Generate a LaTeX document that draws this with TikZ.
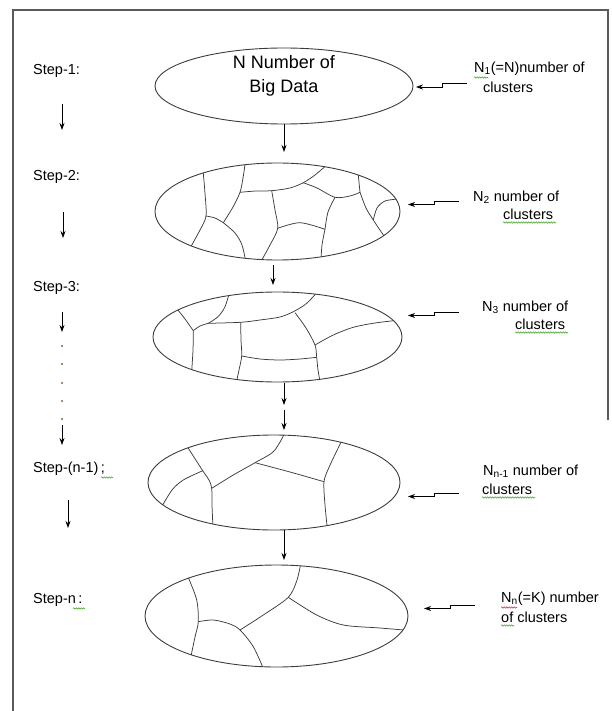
\documentclass[tikz,border=0pt]{standalone}
\usepackage{fontspec}
\setmainfont{Liberation Sans}
\usetikzlibrary{arrows.meta,shapes.geometric,decorations.pathmorphing}

\definecolor{edgegray}{RGB}{60,60,60}
\definecolor{framegray}{RGB}{90,90,90}
\definecolor{dotbrown}{RGB}{150,95,45}
\definecolor{spellgreen}{RGB}{80,170,60}
\definecolor{spellred}{RGB}{220,60,60}

\begin{document}
\begin{tikzpicture}[x=1pt, y=-1pt, font=\fontsize{14.5}{17}\selectfont,
		blob/.style={draw=edgegray, line width=0.9pt, ellipse, inner sep=0pt},
		cut/.style={draw=edgegray, line width=0.75pt},
		flow/.style={-{Stealth[length=7pt, width=5pt]}, line width=0.8pt},
		tag/.style={anchor=west, inner sep=0pt},
		squig/.style={decorate, decoration={snake, amplitude=0.7pt, segment length=2.5pt}, line width=0.6pt}]
		\useasboundingbox (0,0) rectangle (611,711);
		% frame
		\draw[framegray, line width=1.2pt] (13,711) -- (13,10) -- (608,10) -- (608,420);
		% step labels on the left
		\foreach \name/\y/\txt in {step1/71/{Step-1:}, step2/177/{Step-2:}, step3/288/{Step-3:}, stepm/469/{Step-(n-1)\,;}, stepn/600/{Step-n\,:}}
			\node[tag] (\name) at (33,\y) {\txt};
		\foreach \x/\ya/\yb in {62/104/130, 63/212/238, 62/312/332, 62/425/445, 68/500/528}
			\draw[flow] (\x,\ya) -- (\x,\yb);
		\foreach \y in {346,364,383,401,419}
			\fill[dotbrown] (62,\y) circle (1.2pt);
		% the data sets, one ellipse per step
		\node[blob, minimum width=258pt, minimum height=76pt] (e1) at (284,86) {};
		\node[align=center, font=\fontsize{18}{24}\selectfont] (bigdata) at (284,76) {N Number of\\Big Data};
		\node[blob, minimum width=245pt, minimum height=97pt] (e2) at (277.5,211.5) {};
		\node[blob, minimum width=249pt, minimum height=90pt] (e3) at (277.5,337) {};
		\node[blob, minimum width=252pt, minimum height=95pt] (e4) at (274,482.5) {};
		\node[blob, minimum width=263pt, minimum height=102pt] (e5) at (276.5,616) {};
		% clusters inside step 2
		\begin{scope}
			\clip (e2.center) ellipse [x radius=122.5, y radius=48.5];
			\draw[cut] plot[smooth] coordinates {(203,170) (205,193.3) (206,216) (200,230) (189,250)};
			\draw[cut] plot[smooth] coordinates {(206,216) (215,218) (223.3,222.7)};
			\draw[cut] plot[smooth] coordinates {(223.3,222.7) (233,207) (240,192.3) (243,178) (245.5,161)};
			\draw[cut] plot[smooth] coordinates {(223.3,222.7) (235,233) (242,245) (246,263)};
			\draw[cut] plot[smooth] coordinates {(240,192.3) (256,191) (271.7,190.7) (290,188) (303.3,182.7) (315,175) (329,163)};
			\draw[cut] plot[smooth] coordinates {(271.7,190.7) (275,210) (277.7,228.3) (270,245) (259,265)};
			\draw[cut] plot[smooth] coordinates {(277.7,228.3) (300,222.7) (325,229.3)};
			\draw[cut] plot[smooth] coordinates {(325,229.3) (328,212) (335,197.3)};
			\draw[cut] plot[smooth] coordinates {(325,229.3) (322,245) (321,260)};
			\draw[cut] plot[smooth] coordinates {(303.3,182.7) (317,188) (335,197.3) (350,196) (360,192.3)};
			\draw[cut] plot[smooth] coordinates {(358,171) (358.3,175) (360,192.3)};
			\draw[cut] plot[smooth] coordinates {(360,192.3) (366,208) (373.3,220) (386,239)};
			\draw[cut] plot[smooth] coordinates {(373.3,220) (377,208) (385,201) (398,199)};
		\end{scope}
		% clusters inside step 3
		\begin{scope}
			\clip (e3.center) ellipse [x radius=124.5, y radius=45];
			\draw[cut] plot[smooth] coordinates {(230.5,289) (225,306.7) (218,316.7) (208.3,323.3)};
			\draw[cut] plot[smooth] coordinates {(208.3,323.3) (240.7,322.3) (260,320) (280,317) (293.3,311.7) (306.7,303.3) (320,289)};
			\draw[cut] plot[smooth] coordinates {(174,307) (177.3,309.3) (185,319) (193.3,330.7)};
			\draw[cut] plot[smooth] coordinates {(193.3,330.7) (200,326) (208.3,323.3)};
			\draw[cut] plot[smooth] coordinates {(193.3,330.7) (193,350) (191.5,374)};
			\draw[cut] plot[smooth] coordinates {(240.7,322.3) (241,340) (241.7,356) (239,370) (236,384)};
			\draw[cut] plot[smooth] coordinates {(241.7,356) (260,359) (280,360) (300,359) (316.7,357.3)};
			\draw[cut] plot[smooth] coordinates {(295,312.7) (306,328) (315,345) (316.7,357.3) (318,370) (320.5,384)};
			\draw[cut] plot[smooth] coordinates {(315,345) (333.3,335) (353.3,327.3) (375,323) (400,320)};
		\end{scope}
		% clusters inside step n-1
		\begin{scope}
			\clip (e4.center) ellipse [x radius=126, y radius=47.5];
			\draw[cut] plot[smooth] coordinates {(284,432) (283.3,436) (273.3,451.7) (255,462.7) (233.3,475) (211.7,488.3)};
			\draw[cut] plot[smooth] coordinates {(255,462.7) (290,472) (324,481.7)};
			\draw[cut] plot[smooth] coordinates {(342,439) (340.7,442.7) (329.3,466.7) (324,481.7) (325,505) (327.5,530)};
			\draw[cut] plot[smooth] coordinates {(186,445) (188.3,448.3) (202.7,470.7) (209,480) (211.7,488.3) (212,505) (213,528)};
			\draw[cut] plot[smooth] coordinates {(202.7,470.7) (183.3,480) (172,490) (161,508)};
		\end{scope}
		% clusters inside step n
		\begin{scope}
			\clip (e5.center) ellipse [x radius=131.5, y radius=51];
			\draw[cut] plot[smooth] coordinates {(187,573) (188.3,577.3) (196.7,600) (198.3,621.7) (195,637) (191,656)};
			\draw[cut] plot[smooth] coordinates {(198.3,621.7) (213.3,620) (230,624) (240,630) (253.3,646.7) (264,670)};
			\draw[cut] plot[smooth] coordinates {(240,630) (263.3,615) (288.3,597.3) (297,580) (301,562)};
			\draw[cut] plot[smooth] coordinates {(288.3,597.3) (316.7,615) (343.3,625) (380,628) (410,630.5)};
		\end{scope}
		% arrows between the steps
		\coordinate (d1) at (284,152);
		\coordinate (d2a) at (273,265);
		\coordinate (d2b) at (273,285);
		\coordinate (d3s) at (284,383);
		\coordinate (d3a) at (284,405);
		\coordinate (d3b) at (284,410);
		\coordinate (d3c) at (284,430);
		\coordinate (d4s) at (284,530);
		\coordinate (d4) at (284,560);
		\draw[flow] (e1.south) -- (d1);
		\draw[flow] (d2a) -- (d2b);
		\draw[flow] (d3s) -- (d3a);
		\draw[flow] (d3b) -- (d3c);
		\draw[flow] (d4s) -- (d4);
		% number of clusters on the right
		\node[tag] (n1a) at (474,69) {N\textsubscript{1}(=N)number of};
		\node[tag] (n1b) at (483,87) {clusters};
		\node[tag] (n2a) at (473,197) {N\textsubscript{2} number of};
		\node[tag] (n2b) at (503,214) {clusters};
		\node[tag] (n3a) at (482,307) {N\textsubscript{3} number of};
		\node[tag] (n3b) at (515,324) {clusters};
		\node[tag] (n4a) at (483,471) {N\textsubscript{n-1} number of};
		\node[tag] (n4b) at (482,489) {clusters};
		\node[tag] (n5a) at (501,599) {N\textsubscript{n}(=K) number};
		\node[tag] (n5b) at (501,617) {of clusters};
		\foreach \xs/\ys/\xt/\yt in {467/83.5/416/87, 459/201/408/204.5, 459/312/408/315.5, 459/493/408/496.5, 475/605/424/608.5}
			\draw[flow] (\xs,\ys) -- ({\xs-25},\ys) |- (\xt,\yt);
		% spelling marks
		\draw[squig, spellgreen] (474,77.5) -- (488,77.5);
		\draw[squig, spellgreen] (503,222.5) -- (556,222.5);
		\draw[squig, spellgreen] (515,332.5) -- (568,332.5);
		\draw[squig, spellgreen] (482,497.5) -- (535,497.5);
		\draw[squig, spellred] (501,607.5) -- (517,607.5);
		\draw[squig, spellgreen] (501,625.5) -- (514,625.5);
		\draw[squig, spellgreen] (101,477.5) -- (113,477.5);
		\draw[squig, spellgreen] (73,608.5) -- (85,608.5);
	\end{tikzpicture}
\end{document}
